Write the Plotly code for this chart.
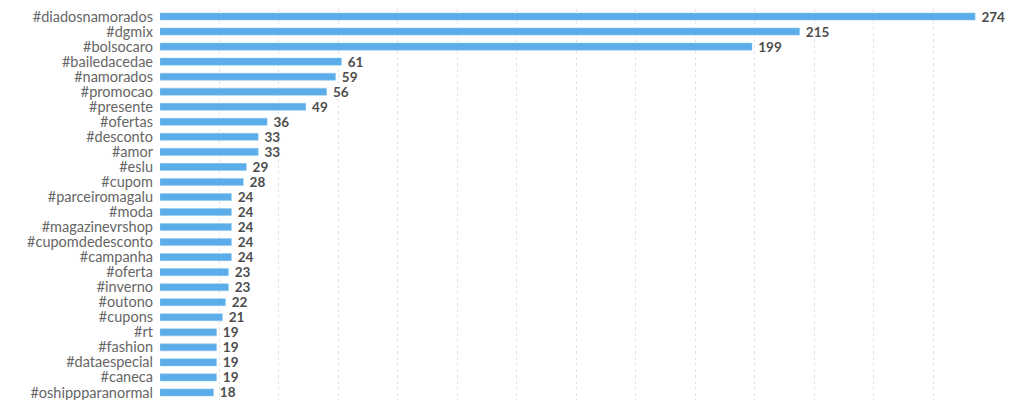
import plotly.graph_objects as go

hashtags = ["#diadosnamorados", "#dgmix", "#bolsocaro", "#bailedacedae", "#namorados",
            "#promocao", "#presente", "#ofertas", "#desconto", "#amor", "#eslu", "#cupom",
            "#parceiromagalu", "#moda", "#magazinevrshop", "#cupomdedesconto", "#campanha",
            "#oferta", "#inverno", "#outono", "#cupons", "#rt", "#fashion", "#dataespecial",
            "#caneca", "#oshippparanormal", "#mulher"]
counts = [274, 215, 199, 61, 59, 56, 49, 36, 33, 33, 29, 28, 24, 24, 24, 24, 24,
          23, 23, 22, 21, 19, 19, 19, 19, 18, 18]

bar_color = "#5aade8"
label_color = "#666666"
value_color = "#4d4d4d"

fig = go.Figure(go.Bar(
    x=counts,
    y=hashtags,
    orientation="h",
    marker=dict(color=bar_color, line=dict(color="#8cc6ef", width=0.5)),
    text=[" " + str(c) for c in counts],
    textposition="outside",
    constraintext="none",
    cliponaxis=False,
    textfont=dict(family="Lato", size=13.5, color=value_color, weight="bold"),
    hoverinfo="x+y",
))

n = len(hashtags)
row_px = 15.05
top = 9
bottom = 40
fig.update_layout(
    width=1024,
    height=int(top + n * row_px + bottom),
    margin=dict(l=160, r=37, t=top, b=bottom, autoexpand=False),
    paper_bgcolor="white",
    plot_bgcolor="white",
    bargap=0.53,
    showlegend=False,
    uniformtext=dict(minsize=13.5, mode="show"),
    font=dict(family="Lato", color=label_color),
    xaxis=dict(
        range=[0, 278],
        dtick=20,
        showgrid=True,
        gridcolor="#e3e3e3",
        griddash="3px,3px",
        gridwidth=1,
        zeroline=False,
        showline=False,
        ticks="",
        tickfont=dict(size=12, color="#888888"),
    ),
    yaxis=dict(
        autorange="reversed",
        tickmode="array",
        tickvals=hashtags,
        ticktext=hashtags,
        showgrid=False,
        zeroline=False,
        showline=False,
        ticks="",
        ticklabelstandoff=6,
        tickfont=dict(family="Lato", size=14.5, color=label_color),
    ),
)

fig.write_html(
    "out.html",
    config={"displayModeBar": False},
    post_script="document.body.style.margin='0';document.body.style.overflow='hidden';",
)
